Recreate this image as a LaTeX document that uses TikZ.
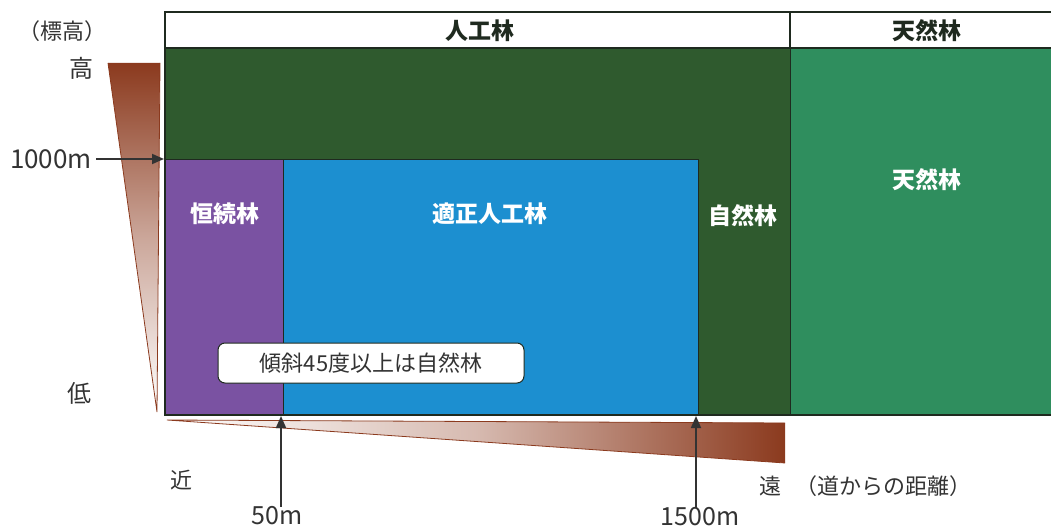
\documentclass[tikz,border=0pt]{standalone}
\usepackage{fontspec}
\setmainfont{Noto Sans CJK JP}
\usetikzlibrary{arrows.meta}
\definecolor{dkgreen}{HTML}{2F5A2E}
\definecolor{ltgreen}{HTML}{2F8E5E}
\definecolor{purp}{HTML}{7A52A2}
\definecolor{blu}{HTML}{1C8FD0}
\definecolor{brn}{HTML}{8B3A1E}
\definecolor{frame}{HTML}{1F2A1F}
\definecolor{txt}{HTML}{333333}
\tikzset{
  lbl/.style={text=txt, font=\fontsize{22}{24}\selectfont, inner sep=0pt},
  num/.style={text=txt, font=\fontsize{25}{27}\selectfont, inner sep=0pt},
  wlbl/.style={text=white, font=\fontsize{23}{25}\selectfont\bfseries, inner sep=0pt},
  hlbl/.style={text=frame, font=\fontsize{23}{25}\selectfont\bfseries, inner sep=0pt},
  arr/.style={draw=txt, line width=1.8pt, -{Triangle[length=12pt,width=10pt]}},
  region/.style={draw=frame, line width=1pt},
}
\begin{document}
\begin{tikzpicture}[x=1pt,y=-1pt]
\useasboundingbox (0,0) rectangle (1051,529);
% regions
\fill[dkgreen] (165,48) rectangle (790,415);
\fill[ltgreen] (790,48) rectangle (1051,415);
\fill[purp] (165,160) rectangle (283,415);
\fill[blu] (283,160) rectangle (698,415);
\draw[region] (165,160) -- (698,160) -- (698,415);
\draw[region] (283,160) -- (283,415);
\draw[region] (790,48) -- (790,415);
% header
\fill[white] (165,12) rectangle (1051,48);
\draw[frame, line width=2.5pt] (1051,12) -- (165,12) -- (165,415) -- (1051,415);
\draw[frame, line width=2.5pt] (165,48) -- (1051,48);
\draw[frame, line width=2pt] (790,12) -- (790,48);
\node[hlbl] (hjinko) at (480,31) {人工林};
\node[hlbl] (htennen) at (927,31) {天然林};
% region labels
\node[wlbl] (kozoku) at (225,214) {恒続林};
\node[wlbl] (tekisei) at (490,214) {適正人工林};
\node[wlbl] (shizen) at (743,216) {自然林};
\node[wlbl] (tennen) at (927,180) {天然林};
\node[draw=frame, line width=1pt, fill=white, rounded corners=7pt, minimum width=306pt, minimum height=40pt, inner sep=0pt, text=txt, font=\fontsize{22}{24}\selectfont] (keisha) at (371,363) {傾斜45度以上は自然林};
% left gradient triangle
\shade[top color=brn, bottom color=white, middle color=brn!45] (108,63) -- (160,63) -- (157,412) -- cycle;
\draw[brn, line width=0.8pt] (108,63) -- (157,412) -- (160,63);
% bottom gradient triangle
\shade[left color=white, right color=brn, middle color=brn!35] (167,420) -- (785,423) -- (785,463) -- cycle;
\draw[brn, line width=0.8pt] (785,423) -- (167,420) -- (785,463);
% axis labels
\node[lbl] (hyoko) at (62,31) {（標高）};
\node[lbl, font=\fontsize{24}{26}\selectfont] (taka) at (81,68) {高};
\node[lbl, font=\fontsize{24}{26}\selectfont] (hiku) at (79,393) {低};
\node[num, font=\fontsize{26}{28}\selectfont] (m1000) at (51,159) {1000m};
\coordinate (p1000) at (164,159);
\draw[arr] (m1000.east) ++(4pt,0) -- (p1000);
\node[lbl] (chika) at (181,480) {近};
\node[lbl] (too) at (770,486) {遠};
\node[lbl] (kyori) at (883,486) {（道からの距離）};
\node[num] (m50) at (277,516) {50m};
\node[num] (m1500) at (700,517) {1500m};
\coordinate (p50) at (281,416);
\coordinate (p1500) at (696,416);
\draw[arr] (m50.north -| p50) -- (p50);
\draw[arr] (m1500.north -| p1500) -- (p1500);
\end{tikzpicture}
\end{document}
